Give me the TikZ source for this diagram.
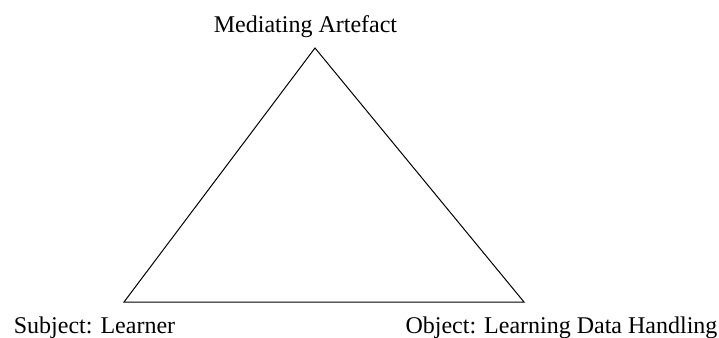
\documentclass[tikz,border=0pt]{standalone}
\usepackage{fontspec}
\setmainfont{Liberation Serif}
\begin{document}
\begin{tikzpicture}[x=0.5pt, y=-0.5pt,
    corner/.style={font=\fontsize{12}{14}\selectfont, inner sep=0pt, anchor=base}]
      \useasboundingbox (0,0) rectangle (719,338);
      % corners of the triangle
      \coordinate (apex) at (315,48);
      \coordinate (left) at (124,302);
      \coordinate (right) at (524,302);
      \draw[line width=0.5pt] (left) -- (apex) -- (right) -- cycle;
      % labels
      \node[corner] (med) at (305.5,32) {Mediating Artefact};
      \node[corner] (subj) at (94.5,333) {Subject: Learner};
      \node[corner] (obj) at (561.5,333) {Object: Learning Data Handling};
    \end{tikzpicture}
\end{document}
